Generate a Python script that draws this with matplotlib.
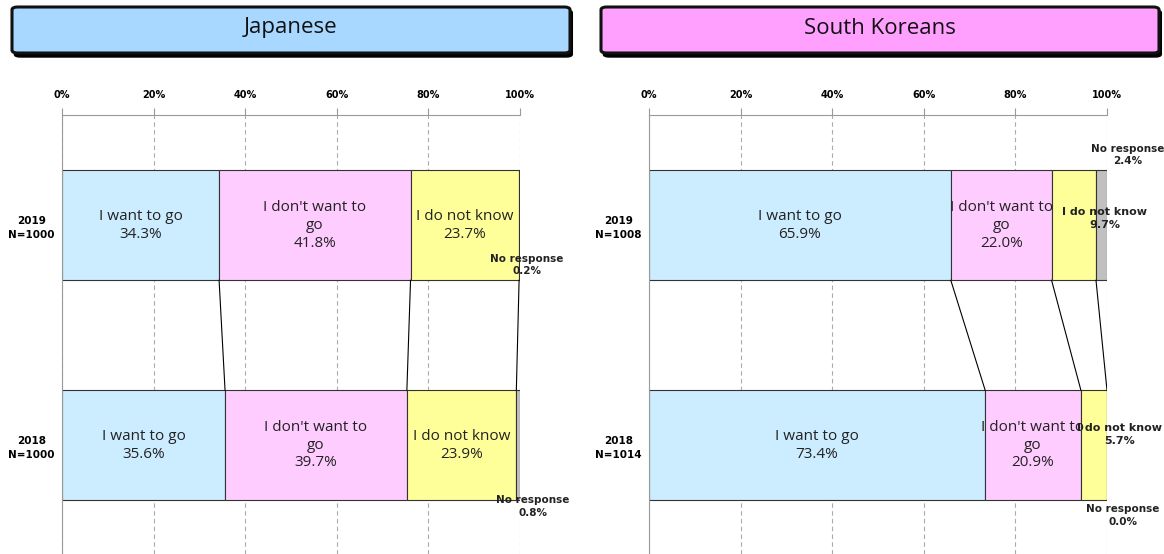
import matplotlib
matplotlib.use("Agg")
import matplotlib.pyplot as plt
from matplotlib.patches import FancyBboxPatch
import numpy as np

# data
years = ["2019", "2018"]
categories = ["I want to go", "I don't want to\ngo", "I do not know", "No response"]
colors = ["#CCECFF", "#FFCCFF", "#FFFF99", "#C0C0C0"]

jp_title = "Japanese"
jp_n = ["N=1000", "N=1000"]
jp_vals = [[34.3, 41.8, 23.7, 0.2],
           [35.6, 39.7, 23.9, 0.8]]

kr_title = "South Koreans"
kr_n = ["N=1008", "N=1014"]
kr_vals = [[65.9, 22.0, 9.7, 2.4],
           [73.4, 20.9, 5.7, 0.0]]

W, H = 1164, 554
fig = plt.figure(figsize=(W / 100, H / 100), dpi=100)


def title_box(x0, x1, text, color):
    # shadow
    sh = FancyBboxPatch((x0 / W + 0.002, 1 - 57 / H), (x1 - x0) / W, 47 / H,
                        boxstyle="round,pad=0,rounding_size=0.005",
                        transform=fig.transFigure, facecolor="black",
                        edgecolor="black", linewidth=1)
    fig.patches.append(sh)
    b = FancyBboxPatch((x0 / W, 1 - 53 / H), (x1 - x0) / W, 46 / H,
                       boxstyle="round,pad=0,rounding_size=0.005",
                       transform=fig.transFigure, facecolor=color,
                       edgecolor="#111111", linewidth=2.2)
    fig.patches.append(b)
    fig.text((x0 + x1) / 2 / W, 1 - 28 / H, text, ha="center", va="center",
             fontsize=16, family="Open Sans", color="#111111")


def panel(left_px, vals, ns, extra):
    ax = fig.add_axes([left_px / W, 0, 458 / W, 1 - 115 / H])
    ax.set_xlim(0, 100)
    ax.set_ylim(1.495, -0.502)
    ax.xaxis.tick_top()
    ax.set_xticks(np.arange(0, 101, 20))
    ax.set_xticklabels([f"{t}%" for t in range(0, 101, 20)],
                       fontsize=7, fontweight="bold")
    ax.tick_params(axis="x", length=5, color="#999999", pad=6)
    ax.set_yticks([0, 1])
    ax.set_yticklabels([f"{y}\n{n}" for y, n in zip(years, ns)],
                       fontsize=7.5, fontweight="bold", ha="center",
                       linespacing=1.5)
    ax.tick_params(axis="y", length=0, pad=22)
    ax.grid(axis="x", color="#AAAAAA", linestyle=(0, (4, 3)), linewidth=0.8)
    ax.set_axisbelow(True)
    for s in ["right", "bottom"]:
        ax.spines[s].set_visible(False)
    ax.spines["top"].set_color("#999999")
    ax.spines["left"].set_color("#999999")

    h = 0.5
    vals = np.array(vals)
    for i, row in enumerate(vals):
        left = 0
        for j, v in enumerate(row):
            ax.barh(i, v, left=left, height=h, color=colors[j],
                    edgecolor="#333333", linewidth=0.8)
            if j < 3 and j not in extra.get(i, {}):
                ax.text(left + v / 2, i, f"{categories[j]}\n{v:.1f}%",
                        ha="center", va="center", fontsize=11,
                        family="Open Sans", color="#222222", linespacing=1.25)
            left += v
    # connector lines
    c0 = np.cumsum(vals[0])[:3]
    c1 = np.cumsum(vals[1])[:3]
    for a, b in zip(c0, c1):
        ax.plot([a, b], [h / 2, 1 - h / 2], color="black", linewidth=0.8)
    # outside labels
    for i, d in extra.items():
        for j, (x, y, fs) in d.items():
            ax.text(x, y, f"{categories[j]}\n{vals[i][j]:.1f}%",
                    ha="center", va="center", fontsize=fs,
                    fontweight="bold", color="#222222", linespacing=1.35,
                    clip_on=False)
    return ax


title_box(12, 570, jp_title, "#A8D8FF")
title_box(601, 1159, kr_title, "#FFA0FF")

panel(62, jp_vals, jp_n, {0: {3: (101.5, 0.18, 7.5)},
                          1: {3: (102.8, 1.28, 7.5)}})
panel(649, kr_vals, kr_n, {0: {3: (104.5, -0.32, 7.5),
                               2: (99.5, -0.03, 8)},
                           1: {2: (102.8, 0.95, 8),
                               3: (103.5, 1.32, 7.5)}})

fig.savefig("out.png", dpi=100)
